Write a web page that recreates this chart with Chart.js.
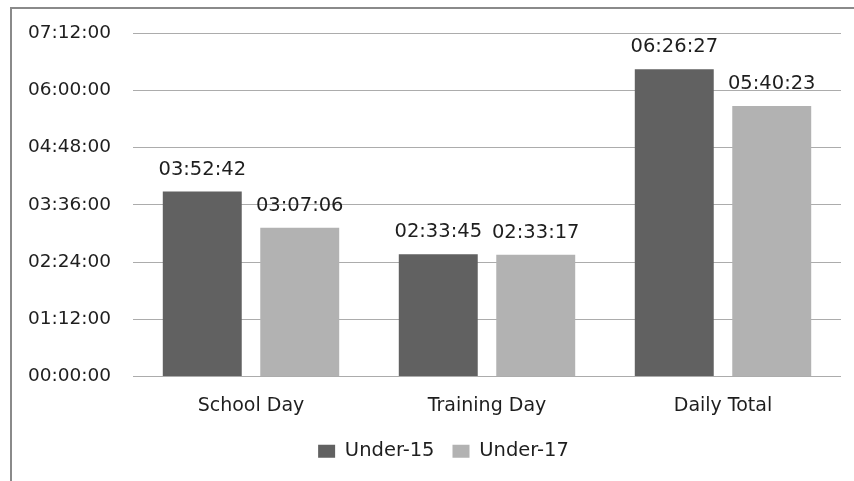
<!DOCTYPE html>
<html>
<head>
<meta charset="utf-8">
<script src="https://cdn.jsdelivr.net/npm/chart.js@4.4.1/dist/chart.umd.min.js"></script>
<style>
  html, body { margin: 0; padding: 0; background: #ffffff; }
  #wrap { position: relative; width: 854px; height: 481px; overflow: hidden; }
  #frame {
    position: absolute; left: 10px; top: 7px; width: 900px; height: 500px;
    border-left: 2px solid #8a8a8a; border-top: 2px solid #8a8a8a;
    box-sizing: border-box; pointer-events: none;
  }
  canvas { position: absolute; left: 0; top: 0; }
</style>
</head>
<body>
<div id="wrap">
  <canvas id="chart" width="854" height="481"></canvas>
  <div id="frame"></div>
</div>
<script>
// Average durations per day type (hh:mm:ss)
const categories = ['School Day', 'Training Day', 'Daily Total'];
const under15 = ['03:52:42', '02:33:45', '06:26:27'];
const under17 = ['03:07:06', '02:33:17', '05:40:23'];
const seriesNames = ['Under-15', 'Under-17'];
// Axis runs 0 to 07:12:00 in 01:12:00 steps
const axisMax = '07:12:00';
const axisStep = '01:12:00';

function toSeconds(t) {
  const [h, m, s] = t.split(':').map(Number);
  return h * 3600 + m * 60 + s;
}
function toClock(sec) {
  const h = Math.floor(sec / 3600);
  const m = Math.floor((sec % 3600) / 60);
  const s = Math.round(sec % 60);
  const p = n => String(n).padStart(2, '0');
  return p(h) + ':' + p(m) + ':' + p(s);
}

const FONT = '"DejaVu Sans", sans-serif';
const TEXT = '#1e1e1e';
const GRID = '#acacac';

// Writes each bar's hh:mm:ss value above it
const valueLabels = {
  id: 'valueLabels',
  afterDatasetsDraw(chart) {
    const ctx = chart.ctx;
    ctx.save();
    ctx.font = '19.5px ' + FONT;
    ctx.fillStyle = TEXT;
    ctx.textAlign = 'center';
    ctx.textBaseline = 'alphabetic';
    chart.data.datasets.forEach((ds, di) => {
      const meta = chart.getDatasetMeta(di);
      meta.data.forEach((bar, i) => {
        ctx.fillText(ds.raw[i], bar.x, bar.y - 17);
      });
    });
    ctx.restore();
  }
};

// Centres the legend under the whole outer frame rather than the canvas
const legendShift = {
  id: 'legendShift',
  afterLayout(chart) {
    if (chart.legend) {
      chart.legend.left += 46;
    }
  }
};

new Chart(document.getElementById('chart'), {
  type: 'bar',
  data: {
    labels: categories,
    datasets: [
      { label: seriesNames[0], raw: under15, data: under15.map(toSeconds),
        backgroundColor: '#616161', borderWidth: 0 },
      { label: seriesNames[1], raw: under17, data: under17.map(toSeconds),
        backgroundColor: '#b2b2b2', borderWidth: 0 }
    ]
  },
  options: {
    responsive: false,
    animation: false,
    devicePixelRatio: 1,
    layout: { padding: { left: 0, right: 13, top: 32, bottom: 10 } },
    datasets: { bar: { categoryPercentage: 0.826, barPercentage: 0.81 } },
    plugins: {
      legend: {
        position: 'bottom',
        labels: {
          color: TEXT,
          font: { family: FONT, size: 19.5 },
          boxWidth: 17, boxHeight: 13, padding: 18
        }
      },
      tooltip: { enabled: false }
    },
    scales: {
      x: {
        grid: { display: false },
        border: { display: false },
        ticks: { color: TEXT, font: { family: FONT, size: 19 }, padding: 10 },
        afterFit(scale) { scale.height = 47; }
      },
      y: {
        min: 0,
        max: toSeconds(axisMax),
        grid: { color: GRID, lineWidth: 1, drawTicks: false },
        border: { display: false },
        ticks: {
          stepSize: toSeconds(axisStep),
          color: TEXT,
          font: { family: FONT, size: 18.5 },
          padding: 22,
          callback: v => toClock(v)
        },
        afterFit(scale) { scale.width = 133; }
      }
    }
  },
  plugins: [valueLabels, legendShift]
});
</script>
</body>
</html>
